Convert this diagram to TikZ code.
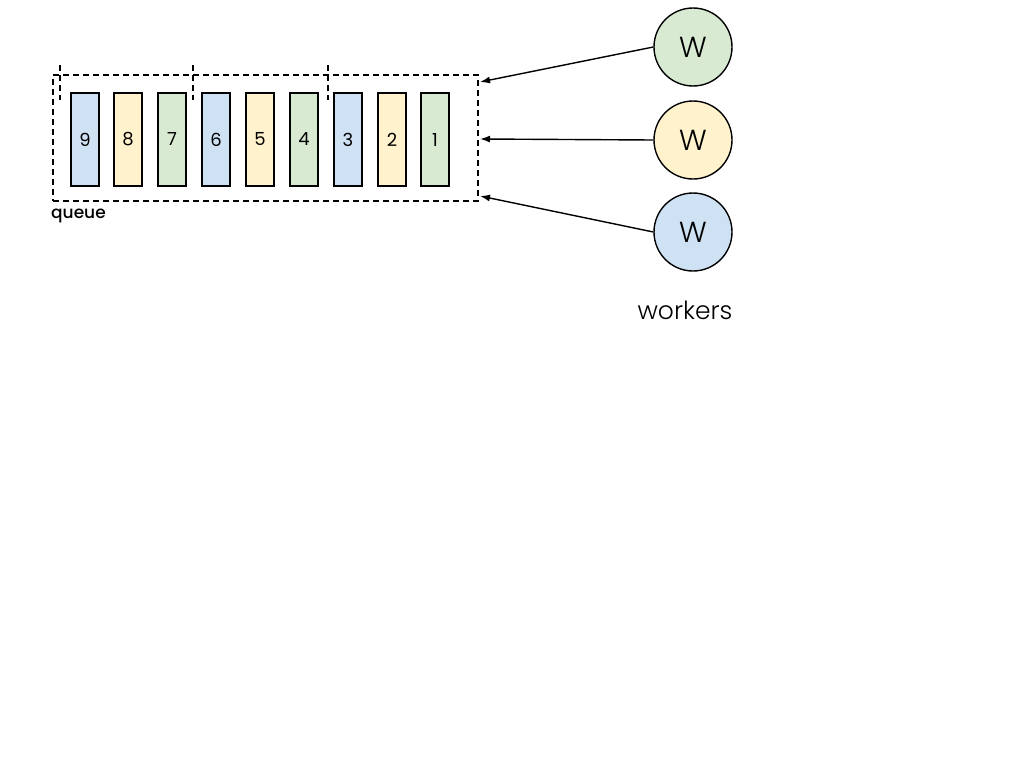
\documentclass[tikz,border=0pt]{standalone}
\usepackage{fontspec}
\setmainfont{Poppins}
\newfontfamily\lightfont{Poppins Light}
\newfontfamily\medfont{Poppins Medium}
\usetikzlibrary{arrows.meta}
\definecolor{cblue}{HTML}{CFE2F3}
\definecolor{cyellow}{HTML}{FFF2CC}
\definecolor{cgreen}{HTML}{D9EAD3}
\begin{document}
\begin{tikzpicture}[x=1pt,y=-1pt,
  item/.style={draw=black,line width=1.4pt,minimum width=28pt,minimum height=93pt,inner sep=0pt,font=\fontsize{18}{18}\selectfont},
  worker/.style={circle,draw=black,line width=1.4pt,minimum size=78pt,inner sep=0pt,font=\lightfont\fontsize{29}{29}\selectfont},
  qbox/.style={draw=black,line width=1.4pt,dash pattern=on 6pt off 4pt},
  conn/.style={-{Latex[length=10pt,width=7pt]},line width=1.4pt}]
\useasboundingbox (0,0) rectangle (1024,768);
\node[qbox,minimum width=425pt,minimum height=126pt,inner sep=0pt] (q) at (265.5,138) {};
\coordinate (t1a) at (60,65); \coordinate (t1b) at (60,100);
\coordinate (t2a) at (193,65); \coordinate (t2b) at (193,100);
\coordinate (t3a) at (328,65); \coordinate (t3b) at (328,100);
\draw[qbox] (t1a) -- (t1b);
\draw[qbox] (t2a) -- (t2b);
\draw[qbox] (t3a) -- (t3b);
\node[item,fill=cblue] (n9) at (85,139.5) {9};
\node[item,fill=cyellow] (n8) at (128,139.5) {8};
\node[item,fill=cgreen] (n7) at (172,139.5) {7};
\node[item,fill=cblue] (n6) at (216,139.5) {6};
\node[item,fill=cyellow] (n5) at (260,139.5) {5};
\node[item,fill=cgreen] (n4) at (304,139.5) {4};
\node[item,fill=cblue] (n3) at (348,139.5) {3};
\node[item,fill=cyellow] (n2) at (392,139.5) {2};
\node[item,fill=cgreen] (n1) at (435,139.5) {1};
\node[anchor=west,font=\medfont\fontsize{17}{17}\selectfont,inner sep=0pt] (ql) at (51,215.5) {queue};
\node[worker,fill=cgreen] (w1) at (693,47) {W};
\node[worker,fill=cyellow] (w2) at (693,140) {W};
\node[worker,fill=cblue] (w3) at (693,232) {W};
\node[font=\lightfont\fontsize{25}{25}\selectfont,inner sep=0pt] (wl) at (685,310) {workers};
\coordinate (e1) at (480,82);
\coordinate (e2) at (480,139);
\coordinate (e3) at (480,196);
\draw[conn] (w1.west) -- (e1);
\draw[conn] (w2.west) -- (e2);
\draw[conn] (w3.west) -- (e3);
\end{tikzpicture}
\end{document}
